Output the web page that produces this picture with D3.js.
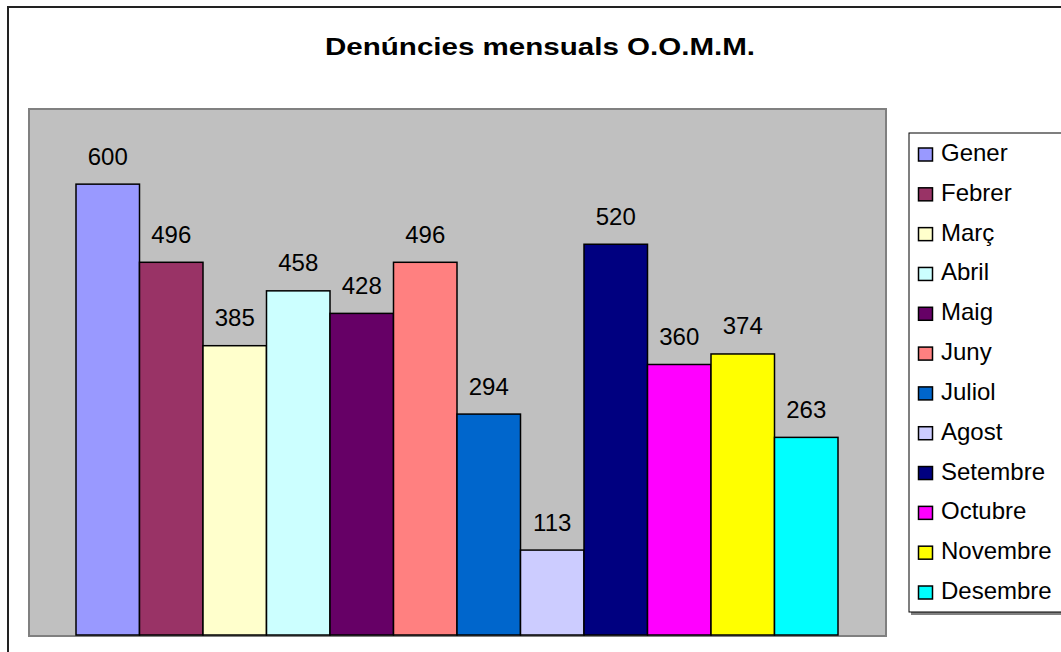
<!DOCTYPE html>
<html><head><meta charset="utf-8">
<script src="https://cdn.jsdelivr.net/npm/d3@7"></script>
<style>html,body{margin:0;padding:0;background:#fff;overflow:hidden}</style>
</head><body>
<script>
const months = ["Gener","Febrer","Març","Abril","Maig","Juny","Juliol","Agost","Setembre","Octubre","Novembre","Desembre"];
const values = [600,496,385,458,428,496,294,113,520,360,374,263];
const colors = ["#9999FF","#993366","#FFFFCC","#CCFFFF","#660066","#FF8080","#0066CC","#CCCCFF","#000080","#FF00FF","#FFFF00","#00FFFF"];
const title = "Denúncies mensuals O.O.M.M.";
const yMax = 700;

const W = 1061, H = 652;
const svg = d3.select("body").append("svg").attr("width", W).attr("height", H);
const font = "'Liberation Sans', Arial, sans-serif";

// outer chart frame (extends beyond the view)
svg.append("rect").attr("x", 8).attr("y", 7).attr("width", 1100).attr("height", 700)
  .attr("fill", "#fff").attr("stroke", "#222").attr("stroke-width", 2);

// title
svg.append("text").attr("x", 540).attr("y", 55).attr("text-anchor", "middle")
  .attr("font-family", font).attr("font-weight", "bold").attr("font-size", 23)
  .attr("textLength", 430).attr("lengthAdjust", "spacingAndGlyphs")
  .text(title);

// plot area
const plot = {left: 29, top: 109, right: 886, bottom: 636};
svg.append("rect").attr("x", plot.left).attr("y", plot.top)
  .attr("width", plot.right - plot.left).attr("height", plot.bottom - plot.top)
  .attr("fill", "#C0C0C0").attr("stroke", "#808080").attr("stroke-width", 2);

const y = d3.scaleLinear().domain([0, yMax]).range([635, 109]);
const x = d3.scaleBand().domain(months).range([76, 838]).paddingInner(0).paddingOuter(0);

const g = svg.append("g");
g.selectAll("rect.bar").data(months).join("rect").attr("class", "bar")
  .attr("x", d => x(d)).attr("width", x.bandwidth())
  .attr("y", (d, i) => y(values[i])).attr("height", (d, i) => y(0) - y(values[i]))
  .attr("fill", (d, i) => colors[i]).attr("stroke", "#000").attr("stroke-width", 1.5);

g.selectAll("text.lbl").data(months).join("text").attr("class", "lbl")
  .attr("x", d => x(d) + x.bandwidth() / 2)
  .attr("y", (d, i) => y(values[i]) - 19.5)
  .attr("text-anchor", "middle").attr("font-family", font).attr("font-size", 24)
  .attr("fill", "#000")
  .text((d, i) => values[i]);

// legend
const leg = svg.append("g");
leg.append("rect").attr("x", 911).attr("y", 135).attr("width", 200).attr("height", 480).attr("fill", "#808080");
leg.append("rect").attr("x", 909).attr("y", 133).attr("width", 200).attr("height", 479)
  .attr("fill", "#fff").attr("stroke", "#000").attr("stroke-width", 1);
const ly = d3.scalePoint().domain(months).range([161, 599]);
const items = leg.selectAll("g.item").data(months).join("g").attr("class", "item")
  .attr("transform", d => `translate(0,${ly(d)})`);
items.append("rect").attr("x", 918.5).attr("y", -13).attr("width", 14).attr("height", 13)
  .attr("fill", (d, i) => colors[i]).attr("stroke", "#000").attr("stroke-width", 1.5);
items.append("text").attr("x", 941).attr("y", 0)
  .attr("font-family", font).attr("font-size", 24).attr("fill", "#000")
  .text(d => d);
</script>
</body></html>
